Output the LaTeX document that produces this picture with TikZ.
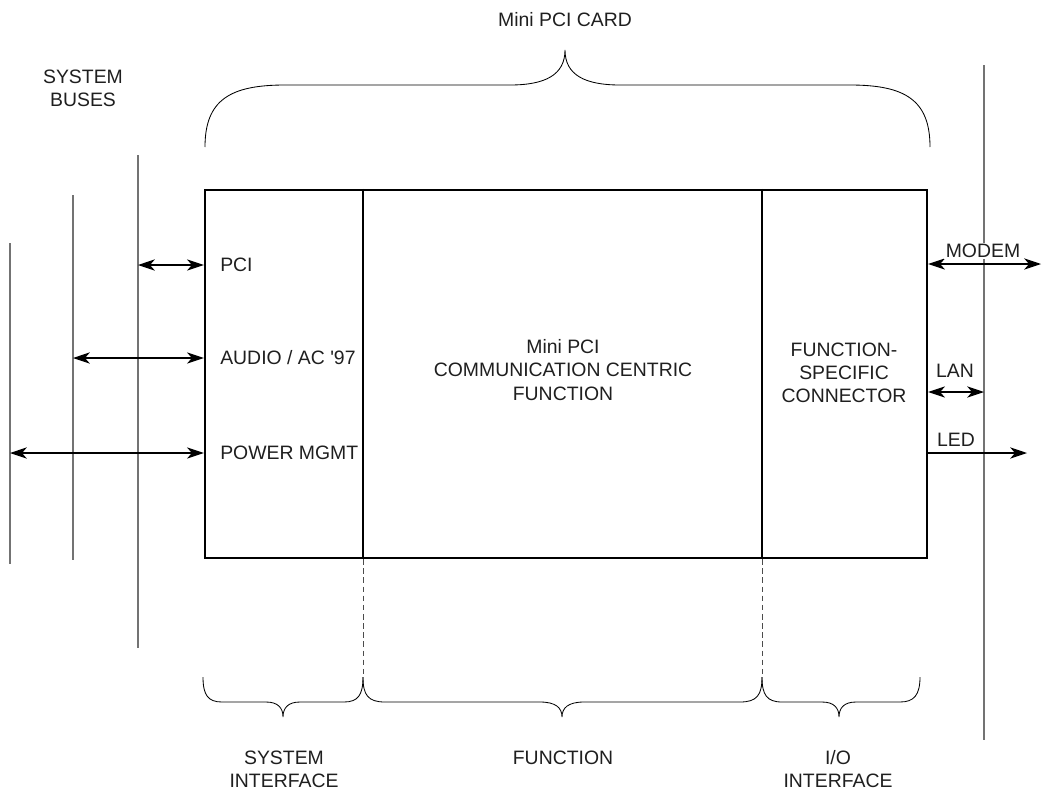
\documentclass[tikz,border=0pt]{standalone}
\usepackage{fontspec}
\setmainfont{Liberation Sans}
\usetikzlibrary{arrows.meta,positioning}

\tikzset{
  lbl/.style={font=\fontsize{13.8}{16.5}\selectfont, inner sep=0pt, align=center, text=black!88},
  bus/.style={draw=black!55, line width=0.9pt},
  wall/.style={line width=1.5pt},
  tip/.style={Stealth[length=12pt,width=8pt,inset=3.5pt]},
  sig/.style={line width=0.75pt, {Stealth[length=12pt,width=8pt,inset=3.5pt]}-{Stealth[length=12pt,width=8pt,inset=3.5pt]}},
  sigout/.style={line width=0.75pt, -{Stealth[length=12pt,width=8pt,inset=3.5pt]}},
  brace/.style={line width=0.6pt},
  divdash/.style={draw=black!70, line width=0.7pt, dash pattern=on 4pt off 2.5pt},
}

\begin{document}
\begin{tikzpicture}[x=0.025cm,y=-0.025cm]
\useasboundingbox (0,0) rectangle (1044,796);

% the card
\node[draw, wall, inner sep=0pt, minimum width=18.05cm, minimum height=9.2cm] (card) at (566,374) {};
\coordinate (sysdiv) at (363,677);
\coordinate (iodiv) at (762,677);
\draw[wall] (sysdiv |- card.north) -- (sysdiv |- card.south);
\draw[wall] (iodiv |- card.north) -- (iodiv |- card.south);
\draw[divdash] (sysdiv |- card.south) -- (sysdiv);
\draw[divdash] (iodiv |- card.south) -- (iodiv);

% texts inside
\node[lbl, anchor=west] (pci) at (220,265) {PCI};
\node[lbl, anchor=west] (audio) at (220,358) {AUDIO / AC \textquotesingle97};
\node[lbl, anchor=west] (pwr) at (220,453) {POWER MGMT};
\node[lbl] (func) at (563,370) {Mini PCI\\COMMUNICATION CENTRIC\\FUNCTION};
\node[lbl] (conn) at (844,373) {FUNCTION-\\SPECIFIC\\CONNECTOR};

% system buses
\node[lbl] (sysbuses) at (83,88) {SYSTEM\\BUSES};
\coordinate (bus1top) at (10,243);   \coordinate (bus1bot) at (10,564);
\coordinate (bus2top) at (73,195);   \coordinate (bus2bot) at (73,560);
\coordinate (bus3top) at (138,155);  \coordinate (bus3bot) at (138,648);
\draw[bus] (bus1top) -- (bus1bot);
\draw[bus] (bus2top) -- (bus2bot);
\draw[bus] (bus3top) -- (bus3bot);
\draw[sig] (bus3top |- pci) -- (card.west |- pci);
\draw[sig] (bus2top |- audio) -- (card.west |- audio);
\draw[sig] (bus1top |- pwr) -- (card.west |- pwr);

% i/o side
\coordinate (iotop) at (984,65);
\coordinate (iobot) at (984,740);
\draw[bus] (iotop) -- (iobot);
\coordinate (modemend) at (1041,264);
\coordinate (lanend) at (984,392);
\coordinate (ledend) at (1027,453);
\draw[sig] (card.east |- modemend) -- (modemend);
\draw[sig] (card.east |- lanend) -- (lanend);
\draw[sigout] (card.east |- ledend) -- (ledend);
\node[lbl, fill=white, inner sep=1pt] (modem) at (983,251) {MODEM};
\node[lbl] (lan) at (955,371) {LAN};
\node[lbl] (led) at (956,440) {LED};

% top brace
\draw[brace] (205,147) .. controls (205,100) and (230,85) .. (285,85) -- (510,85)
  .. controls (545,85) and (565,75) .. (565,50)
  .. controls (565,75) and (585,85) .. (620,85) -- (850,85)
  .. controls (905,85) and (930,100) .. (930,147);
\node[lbl] (cardlbl) at (565,20) {Mini PCI CARD};

% bottom braces
\draw[brace] (203,677) .. controls (203,695) and (208,702) .. (222,702) -- (266,702)
  .. controls (278,702) and (283,708) .. (283,717)
  .. controls (283,708) and (288,702) .. (300,702) -- (344,702)
  .. controls (358,702) and (363,695) .. (sysdiv);
\draw[brace] (sysdiv) .. controls (363,695) and (368,702) .. (385,702) -- (540,702)
  .. controls (556,702) and (562,708) .. (562,717)
  .. controls (562,708) and (568,702) .. (584,702) -- (740,702)
  .. controls (757,702) and (762,695) .. (iodiv);
\draw[brace] (iodiv) .. controls (762,695) and (767,702) .. (782,702) -- (822,702)
  .. controls (834,702) and (839,708) .. (839,717)
  .. controls (839,708) and (844,702) .. (856,702) -- (900,702)
  .. controls (914,702) and (920,695) .. (920,677);
\node[lbl] (syslbl) at (284,769) {SYSTEM\\INTERFACE};
\node[lbl] (funclbl) at (563,758) {FUNCTION};
\node[lbl] (iolbl) at (838,769) {I/O\\INTERFACE};
\end{tikzpicture}
\end{document}
